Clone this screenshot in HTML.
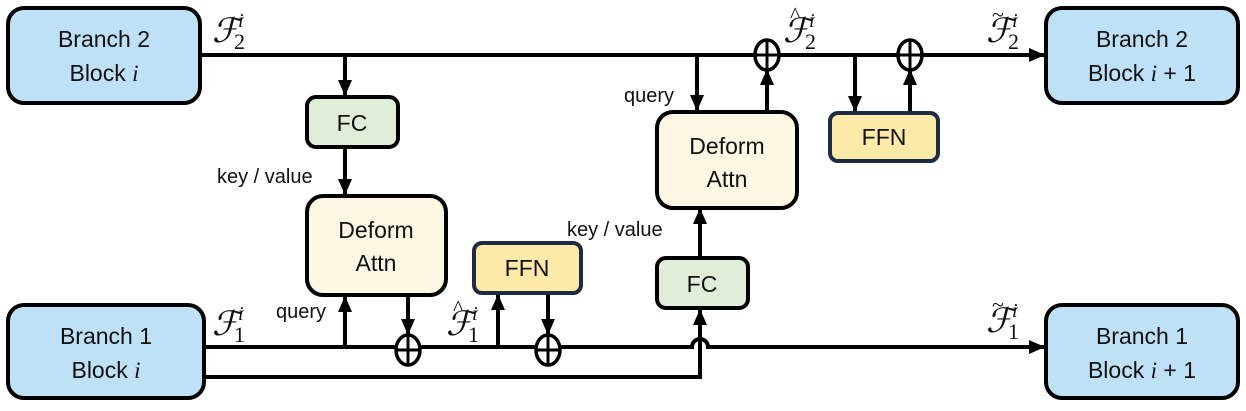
<!DOCTYPE html>
<html><head><style>
body{margin:0;background:#fff;}
svg text{font-family:"Liberation Sans",sans-serif;}
.m{font-family:"Liberation Serif",serif;font-style:italic;}
.n{font-family:"Liberation Serif",serif;}
</style></head><body>
<svg width="1246" height="406" viewBox="0 0 1246 406" xmlns="http://www.w3.org/2000/svg">
<defs>
<marker id="b" viewBox="0 0 16 14" markerWidth="16" markerHeight="14" refX="15" refY="7" orient="auto" markerUnits="userSpaceOnUse"><path d="M0,0 L16,7 L0,14 z" fill="#000"/></marker></defs>
<g stroke="#000" stroke-width="4" fill="none">
<line x1="200" y1="55" x2="1044" y2="55" marker-end="url(#b)"/>
<line x1="345" y1="55" x2="345" y2="95" marker-end="url(#b)"/>
<line x1="345" y1="147" x2="345" y2="194" marker-end="url(#b)"/>
<line x1="697" y1="55" x2="697" y2="110" marker-end="url(#b)"/>
<line x1="767" y1="112" x2="767" y2="70" marker-end="url(#b)"/>
<line x1="855" y1="55" x2="855" y2="111" marker-end="url(#b)"/>
<line x1="910" y1="113" x2="910" y2="70" marker-end="url(#b)"/>
<path d="M204,347 L692,347 A8,8 0 0 1 708,347 L1044,347" marker-end="url(#b)"/>
<path d="M204,377 L700,377 L700,310" marker-end="url(#b)"/>
<line x1="700" y1="258" x2="700" y2="209" marker-end="url(#b)"/>
<line x1="345" y1="347" x2="345" y2="297" marker-end="url(#b)"/>
<line x1="408" y1="295" x2="408" y2="334" marker-end="url(#b)"/>
<line x1="498" y1="347" x2="498" y2="295" marker-end="url(#b)"/>
<line x1="548" y1="293" x2="548" y2="334" marker-end="url(#b)"/>
</g>
<g stroke="#000" stroke-width="3.5" fill="#fff">
<ellipse cx="408" cy="350" rx="12" ry="15"/><ellipse cx="548" cy="350" rx="12" ry="15"/>
<ellipse cx="767" cy="55" rx="12" ry="15"/><ellipse cx="910" cy="55" rx="12" ry="15"/>
</g>
<g stroke="#000" stroke-width="3">
<path d="M396,350h24M408,335v30M536,350h24M548,335v30M755,55h24M767,40v30M898,55h24M910,40v30"/>
</g>
<g stroke="#000" stroke-width="4">
<rect x="8" y="8" width="192" height="95" rx="16" fill="#bfe1f7"/>
<rect x="1046" y="8" width="192" height="95" rx="16" fill="#bfe1f7"/>
<rect x="8" y="305" width="196" height="93" rx="16" fill="#bfe1f7"/>
<rect x="1046" y="305" width="192" height="93" rx="16" fill="#bfe1f7"/>
<rect x="307" y="97" width="91" height="50" rx="9" fill="#e0eed9"/>
<rect x="657" y="258" width="91" height="50" rx="9" fill="#e0eed9"/>
<rect x="307" y="196" width="139" height="99" rx="16" fill="#fdf7e3"/>
<rect x="657" y="112" width="140" height="96" rx="16" fill="#fdf7e3"/>
</g>
<g stroke="#1d2b45" stroke-width="4" fill="#fde9a8">
<rect x="474" y="243" width="107" height="50" rx="8"/>
<rect x="830" y="113" width="108" height="48" rx="8"/>
</g>
<g font-size="23" text-anchor="middle" fill="#111">
<text x="104" y="47">Branch 2</text><text x="104" y="81">Block <tspan class="m">i</tspan></text>
<text x="1142" y="47">Branch 2</text><text x="1142" y="81">Block <tspan class="m">i</tspan> + 1</text>
<text x="106" y="344">Branch 1</text><text x="106" y="378">Block <tspan class="m">i</tspan></text>
<text x="1142" y="344">Branch 1</text><text x="1142" y="378">Block <tspan class="m">i</tspan> + 1</text>
<text x="352" y="131">FC</text><text x="702" y="292">FC</text>
<text x="376" y="238">Deform</text><text x="376" y="271">Attn</text>
<text x="727" y="154">Deform</text><text x="727" y="187">Attn</text>
<text x="527" y="276">FFN</text><text x="884" y="145">FFN</text>
</g>
<g font-size="20" fill="#111">
<text x="217" y="183">key / value</text>
<text x="567" y="236">key / value</text>
<text x="624" y="102">query</text>
<text x="276" y="318">query</text>
</g>
<g font-size="34" fill="#111">
<text class="m" x="212" y="42">ℱ</text><text class="m" x="238" y="27" font-size="20">i</text><text class="n" x="234" y="49" font-size="22">2</text>
<text class="m" x="783" y="42">ℱ</text><text class="m" x="809" y="27" font-size="20">i</text><text class="n" x="805" y="49" font-size="22">2</text>
<text class="n" x="790" y="22" font-size="22">^</text>
<text class="m" x="986" y="42">ℱ</text><text class="m" x="1012" y="27" font-size="20">i</text><text class="n" x="1008" y="49" font-size="22">2</text>
<text class="n" x="992" y="22" font-size="22">~</text>
<text class="m" x="212" y="335">ℱ</text><text class="m" x="238" y="320" font-size="20">i</text><text class="n" x="234" y="342" font-size="22">1</text>
<text class="m" x="446" y="335">ℱ</text><text class="m" x="472" y="320" font-size="20">i</text><text class="n" x="468" y="342" font-size="22">1</text>
<text class="n" x="453" y="315" font-size="22">^</text>
<text class="m" x="986" y="332">ℱ</text><text class="m" x="1012" y="317" font-size="20">i</text><text class="n" x="1008" y="339" font-size="22">1</text>
<text class="n" x="992" y="312" font-size="22">~</text>
</g>
</svg>
</body></html>
